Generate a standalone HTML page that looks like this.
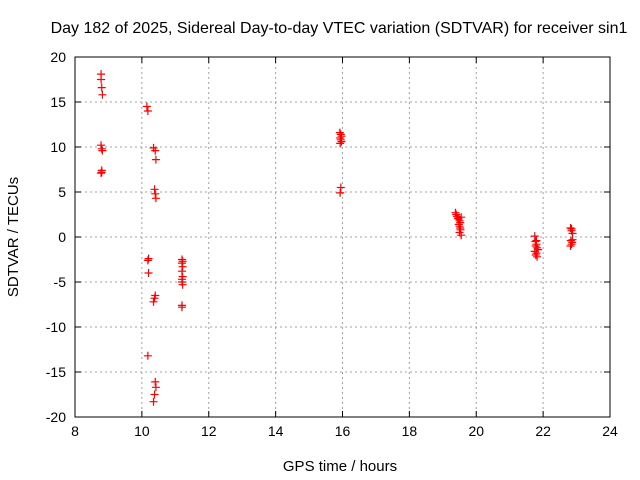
<!DOCTYPE html>
<html><head><meta charset="utf-8"><style>
body{margin:0;background:#fff}
svg{display:block;font-family:"Liberation Sans",sans-serif}
</style></head><body>
<svg id="c" width="640" height="480"></svg>
<script>
const times=[8.78,8.78,8.8,8.82,8.78,8.8,8.82,8.8,8.78,8.8,
10.15,10.18,10.35,10.4,10.42,10.38,10.4,10.42,10.2,10.18,10.2,10.4,10.38,10.35,10.18,10.4,10.42,10.38,10.35,
11.2,11.2,11.22,11.2,11.22,11.2,11.2,11.22,11.2,11.2,11.22,
15.92,15.95,15.97,15.93,15.95,15.97,15.93,15.95,15.93,
19.38,19.4,19.42,19.45,19.47,19.5,19.52,19.48,19.5,19.52,19.53,19.5,19.55,19.55,
21.75,21.77,21.8,21.78,21.82,21.85,21.75,21.8,21.78,21.82,21.8,
22.82,22.85,22.88,22.83,22.87,22.85,22.82,22.88,22.85];
const values=[18.1,17.5,16.6,15.8,10.2,9.8,9.6,7.4,7.1,7.2,
14.5,14.0,9.9,9.6,8.6,5.3,4.8,4.3,-2.4,-2.6,-4.0,-6.5,-6.8,-7.2,-13.2,-16.1,-16.7,-17.5,-18.3,
-2.5,-2.9,-3.3,-3.8,-4.4,-4.7,-5.0,-5.3,-7.6,-7.8,-2.7,
11.6,11.4,11.2,11.0,10.8,10.6,10.4,5.5,4.9,
2.7,2.5,2.3,2.1,2.0,1.8,1.6,1.4,1.2,1.0,0.8,0.5,0.2,2.2,
0.1,-0.5,-0.8,-1.0,-1.2,-1.4,-1.6,-1.8,-2.0,-2.2,-0.4,
1.0,0.7,0.4,-0.4,-0.6,-0.8,-1.0,-0.3,0.9];
const xTicks=[8,10,12,14,16,18,20,22,24];
const yTicks=[-20,-15,-10,-5,0,5,10,15,20];
const NS="http://www.w3.org/2000/svg";
const svg=document.getElementById('c');
const L=75,R=610,T=57,B=417;
const xs=v=>L+(v-8)/16*(R-L);
const ys=v=>B-(v+20)/40*(B-T);
function mk(tag,at,txt){const e=document.createElementNS(NS,tag);for(const k in at)e.setAttribute(k,at[k]);if(txt!=null)e.textContent=txt;svg.appendChild(e);return e;}
xTicks.forEach(t=>{const x=xs(t);
 if(t>8&&t<24){const g=mk('line',{x1:x,x2:x,y1:T,y2:B,stroke:'#a0a0a0','stroke-dasharray':'2,3'});
 }
 mk('line',{x1:x,x2:x,y1:B,y2:B-6,stroke:'#000'});mk('line',{x1:x,x2:x,y1:T,y2:T+6,stroke:'#000'});
 const l=mk('text',{x:x,y:B+19,'text-anchor':'middle','font-size':14},t);
 });
yTicks.forEach(t=>{const y=ys(t);
 if(t>-20&&t<20){const g=mk('line',{x1:L,x2:R,y1:y,y2:y,stroke:'#a0a0a0','stroke-dasharray':'2,3'});
 }
 mk('line',{x1:L,x2:L+6,y1:y,y2:y,stroke:'#000'});mk('line',{x1:R,x2:R-6,y1:y,y2:y,stroke:'#000'});
 const l=mk('text',{x:L-9,y:y+5,'text-anchor':'end','font-size':14},t);
 });
const fr=mk('rect',{x:L,y:T,width:R-L,height:B-T,fill:'none',stroke:'#000'});

times.forEach((t,i)=>{const x=xs(t),y=ys(values[i]);
 const p=mk('path',{d:`M${x-4},${y}H${x+4}M${x},${y-4}V${y+4}`,stroke:'#f00','stroke-width':1.2});
 });
const ti=mk('text',{x:339,y:33,'text-anchor':'middle','font-size':16},'Day 182 of 2025, Sidereal Day-to-day VTEC variation (SDTVAR) for receiver sin1');

const xt=mk('text',{x:340,y:471,'text-anchor':'middle','font-size':15},'GPS time / hours');

const yt=mk('text',{x:0,y:0,'text-anchor':'middle','font-size':15,transform:'translate(18,237) rotate(-90)'},'SDTVAR / TECUs');

</script>
</body></html>
